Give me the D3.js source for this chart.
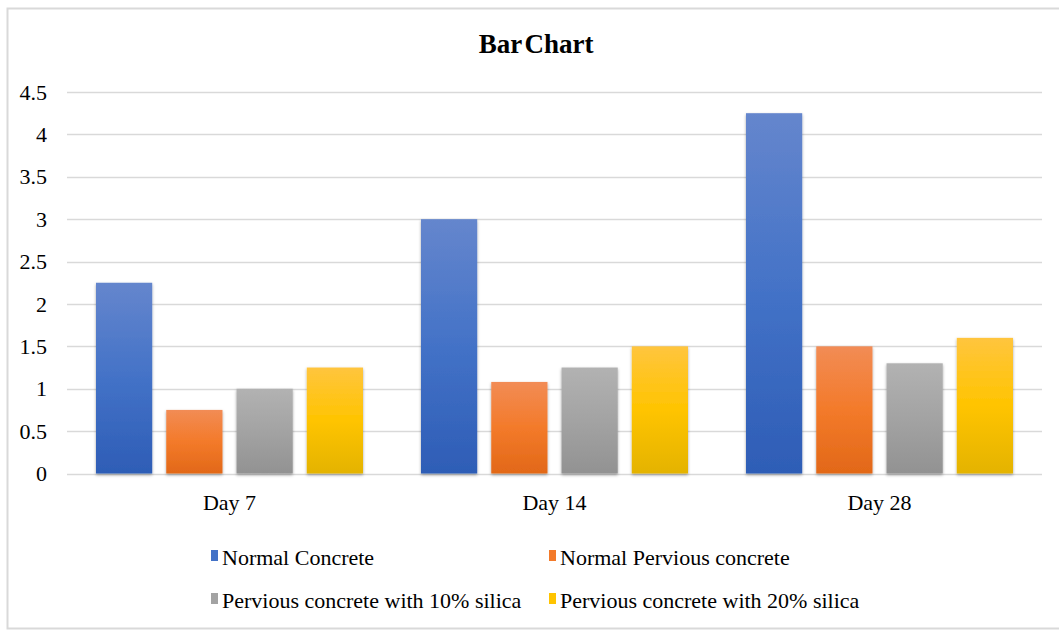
<!DOCTYPE html>
<html>
<head>
<meta charset="utf-8">
<script src="https://cdn.jsdelivr.net/npm/d3@7"></script>
<style>
  body { margin: 0; background: #fff; }
  text { font-family: "Liberation Serif", "Times New Roman", serif; fill: #000; }
</style>
</head>
<body>
<svg id="chart" width="1059" height="630"></svg>
<script>
// data
const categories = ["Day 7", "Day 14", "Day 28"];
const seriesNames = [
  "Normal Concrete",
  "Normal Pervious concrete",
  "Pervious concrete with 10% silica",
  "Pervious concrete with 20% silica"
];
const normalConcrete = [2.25, 3.0, 4.25];
const normalPervious = [0.75, 1.08, 1.5];
const silica10 = [1.0, 1.25, 1.3];
const silica20 = [1.25, 1.5, 1.6];
const yTicks = [0, 0.5, 1, 1.5, 2, 2.5, 3, 3.5, 4, 4.5];

const seriesValues = [normalConcrete, normalPervious, silica10, silica20];
// top, middle, bottom of each gradient
const gradColors = [
  ["#6586cd", "#4372c7", "#2e5db6"],
  ["#f28c55", "#f37a2a", "#e26818"],
  ["#b2b2b2", "#a3a3a3", "#929292"],
  ["#ffc53e", "#ffc400", "#e4b300"]
];

const svg = d3.select("#chart");
const margin = { left: 67, right: 1042, top: 92, bottom: 473.5 };

// outer chart border
svg.append("rect")
  .attr("x", 7.5).attr("y", 8.5)
  .attr("width", 1060).attr("height", 620)
  .attr("fill", "#fff")
  .attr("stroke", "#d9d9d9")
  .attr("stroke-width", 2);

const defs = svg.append("defs");
gradColors.forEach((c, i) => {
  const g = defs.append("linearGradient")
    .attr("id", "grad" + i)
    .attr("x1", 0).attr("y1", 0).attr("x2", 0).attr("y2", 1);
  g.append("stop").attr("offset", "0%").attr("stop-color", c[0]);
  g.append("stop").attr("offset", "50%").attr("stop-color", c[1]);
  g.append("stop").attr("offset", "100%").attr("stop-color", c[2]);
});
const shadow = defs.append("filter").attr("id", "shadow")
  .attr("x", "-20%").attr("y", "-10%").attr("width", "140%").attr("height", "120%");
shadow.append("feDropShadow")
  .attr("dx", 0).attr("dy", 1.5).attr("stdDeviation", 1.6)
  .attr("flood-color", "#000").attr("flood-opacity", 0.35);

const y = d3.scaleLinear().domain([0, 4.5]).range([margin.bottom, margin.top]);
const x0 = d3.scaleBand().domain(categories).range([margin.left, margin.right])
  .paddingInner(0).paddingOuter(0);
const x1 = d3.scaleBand().domain(d3.range(seriesValues.length))
  .range([29, x0.bandwidth() - 29]).paddingInner(0.2);

// gridlines
svg.append("g")
  .selectAll("line")
  .data(yTicks)
  .join("line")
  .attr("x1", margin.left).attr("x2", margin.right)
  .attr("y1", d => Math.round(y(d)) + 0.5)
  .attr("y2", d => Math.round(y(d)) + 0.5)
  .attr("stroke", "#d9d9d9")
  .attr("stroke-width", 1.3);

// y tick labels
svg.append("g")
  .selectAll("text")
  .data(yTicks)
  .join("text")
  .attr("x", 47)
  .attr("y", d => y(d))
  .attr("dy", "0.35em")
  .attr("text-anchor", "end")
  .attr("font-size", 22)
  .text(d => d);

// bars
const groups = svg.append("g")
  .selectAll("g")
  .data(categories)
  .join("g")
  .attr("transform", d => `translate(${x0(d)},0)`);

groups.selectAll("rect")
  .data((d, ci) => seriesValues.map((vals, si) => ({ si, v: vals[ci] })))
  .join("rect")
  .attr("x", d => x1(d.si))
  .attr("y", d => y(d.v))
  .attr("width", x1.bandwidth())
  .attr("height", d => y(0) - y(d.v))
  .attr("fill", d => `url(#grad${d.si})`)
  .attr("filter", "url(#shadow)");

// category labels
svg.append("g")
  .selectAll("text")
  .data(categories)
  .join("text")
  .attr("x", d => x0(d) + x0.bandwidth() / 2)
  .attr("y", 510)
  .attr("text-anchor", "middle")
  .attr("font-size", 22)
  .text(d => d);

// title
svg.append("text")
  .attr("x", 536)
  .attr("y", 53)
  .attr("text-anchor", "middle")
  .attr("font-size", 27)
  .attr("font-weight", "bold")
  .attr("word-spacing", -4)
  .text("Bar Chart");

// legend
const legendPos = [[211, 565], [549, 565], [211, 608], [549, 608]];
const legend = svg.append("g")
  .selectAll("g")
  .data(seriesNames)
  .join("g")
  .attr("transform", (d, i) => `translate(${legendPos[i][0]},${legendPos[i][1]})`);
legend.append("rect")
  .attr("x", 0).attr("y", -15)
  .attr("width", 7).attr("height", 11)
  .attr("fill", (d, i) => gradColors[i][1]);
legend.append("text")
  .attr("x", 11)
  .attr("font-size", 22)
  .text(d => d);
</script>
</body>
</html>
